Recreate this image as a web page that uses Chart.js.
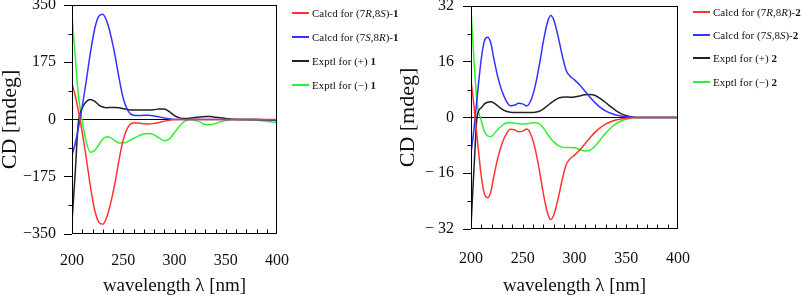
<!DOCTYPE html>
<html><head><meta charset="utf-8">
<script src="https://cdn.jsdelivr.net/npm/chart.js@4"></script>
<style>
body{margin:0;background:#fff;width:803px;height:300px;position:relative;overflow:hidden;font-family:"Liberation Serif",serif;}
canvas{position:absolute;top:0}
#c1{left:0px}
#c2{left:400px}
.legend{position:absolute;top:0;font-size:11px;color:#111;font-family:"Liberation Serif",serif}
.row{position:absolute;left:0;white-space:nowrap;height:14px;line-height:14px}
.sw{position:absolute;left:0;top:6px;width:17px;height:2px}
.txt{position:absolute;left:20px;top:0}
</style>
</head><body>
<canvas id="c1" width="400" height="300"></canvas>
<canvas id="c2" width="403" height="300"></canvas>
<div class="legend" id="lg1" style="left:292px"></div>
<div class="legend" id="lg2" style="left:693px"></div>
<script>
// ---------- Panel 1 data ----------
const wl1 = [200,203,206,210,214,218,222,226,230,234,238,242,246,250,255,260,265,270,275,280,285,290,295,300,305,310,315,320,325,330,335,340,345,350,360,370,380,390,400];
const calcdRS1 = [110,75,30,-40,-120,-205,-275,-313,-320,-298,-252,-192,-122,-62,-22,-11,-11,-13,-14,-12,-9,-5,-2,0,0,0,0,0,0,0,0,0,0,0,0,0,0,0,0];
const calcdSR1 = [-110,-75,-30,40,120,205,275,315,322,300,255,195,125,65,25,13,12,13,13,11,8,5,2,0,0,0,0,0,0,0,0,0,0,0,0,0,0,-1,-2];
const exptlPlus1 = [-312,-170,-15,35,55,61,56,45,38,36,37,37,36,33,30,29,29,29,29,30,32,32,24,12,5,3,4,6,8,9,9,7,5,3,0,0,0,-1,-3];
const exptlMinus1 = [314,200,80,-5,-70,-100,-95,-78,-60,-53,-56,-65,-72,-72,-67,-58,-50,-44,-43,-47,-56,-65,-60,-40,-20,-5,0,-2,-8,-15,-16,-12,-7,-3,0,-1,-2,-5,-10];
const yTicks1 = ['\u2212350','\u2212175','0','175','350'];

// ---------- Panel 2 data ----------
const wl2 = [200,203,206,210,213,216,219,222,226,230,234,238,242,246,250,254,258,262,266,270,274,277,280,284,288,292,296,300,305,310,315,320,325,330,335,340,345,350,360,370,380,390,400];
const calcdRR2 = [10.7,3,-6,-17,-22,-23,-21.5,-17,-11.5,-7.5,-4.8,-3.4,-3.5,-4.1,-3.9,-3.3,-5,-9,-15,-22,-27.5,-29.3,-28,-23.5,-18,-13.5,-11.8,-10.8,-9.3,-7.6,-5.8,-4.2,-2.9,-1.9,-1.2,-0.7,-0.4,-0.2,0,0,0,0,0];
const calcdSS2 = [-10.4,-3,6,17,22,23,21.5,17,11.5,7.5,4.8,3.4,3.5,4.1,3.9,3.3,5,9,15,22,27.5,29.3,28,23.5,18,13.5,11.8,10.8,9.3,7.6,5.8,4.2,2.9,1.9,1.2,0.7,0.4,0.2,0,0,0,0,0];
const exptlPlus2 = [-31.2,-14,0.5,2.8,3.9,4.4,4.5,4.2,3.3,2.4,1.8,1.5,1.4,1.4,1.4,1.4,1.4,1.5,1.8,2.5,3.4,4.1,4.8,5.5,5.8,5.9,5.8,5.9,6.2,6.5,6.6,6.3,5.4,4.3,3.1,2.0,1.1,0.5,0,0,0,0,0];
const exptlMinus2 = [30.8,16,4,-1,-4,-5.3,-5.5,-4.8,-3.4,-2.3,-1.6,-1.5,-1.6,-1.8,-1.9,-1.8,-1.6,-1.5,-1.8,-3,-4.8,-6,-7,-8,-8.5,-8.6,-8.6,-8.7,-9.2,-9.6,-9.4,-8.2,-6.4,-4.5,-3.0,-1.8,-1.0,-0.5,0,0,0,0,0];
const yTicks2 = ['\u2212 32','\u2212 16','0','16','32'];

const xTicks = ['200','250','300','350','400'];

const legend1 = ['Calcd for (7<i>R</i>,8<i>S</i>)-<b>1</b>','Calcd for (7<i>S</i>,8<i>R</i>)-<b>1</b>','Exptl for (+) <b>1</b>','Exptl for (\u2212) <b>1</b>'];
const legend2 = ['Calcd for (7<i>R</i>,8<i>R</i>)-<b>2</b>','Calcd for (7<i>S</i>,8<i>S</i>)-<b>2</b>','Exptl for (+) <b>2</b>','Exptl for (\u2212) <b>2</b>'];
const colors = ['#ff3333','#3333ff','#222222','#33ee33'];

const FONT = '"Liberation Serif", "Times New Roman", serif';

function zip(xs, ys){ return xs.map((x,i)=>({x:x, y:ys[i]})); }

const framePlugin = {
  id:'frame',
  afterDraw(chart, args, opts){
    const {ctx, chartArea:a, scales:{x,y}} = chart;
    ctx.save();
    ctx.strokeStyle='#000'; ctx.lineWidth=1;
    const L=Math.round(a.left)+0.5, R=Math.round(a.right)-0.5, T=Math.round(a.top)+0.5, B=Math.round(a.bottom)-0.5;
    ctx.strokeRect(L, T, R-L, B-T);
    ctx.beginPath();
    for (let v = x.min+10; v < x.max; v += 10){
      const px = Math.round(x.getPixelForValue(v))+0.5;
      ctx.moveTo(px, B); ctx.lineTo(px, B-4);
    }
    const st = opts.minorStep;
    for (let v = y.min+st; v < y.max; v += 2*st){
      const py = Math.round(y.getPixelForValue(v))+0.5;
      ctx.moveTo(L, py); ctx.lineTo(L-4, py);
    }
    ctx.stroke();
    ctx.restore();
  }
};

function makeChart(id, wl, series, labels, yMax, yLabels, minorStep, geom){
  return new Chart(document.getElementById(id), {
    type:'line',
    data:{
      datasets: series.map((s,i)=>({
        label: labels[i],
        data: zip(wl, s),
        borderColor: colors[i],
        borderWidth: 1.5,
        pointRadius: 0,
        fill: false,
        cubicInterpolationMode: 'monotone'
      }))
    },
    options:{
      responsive:false, animation:false, devicePixelRatio:1,
      layout:{padding:{top:geom.top, right:geom.right, left:0, bottom:0}},
      plugins:{legend:{display:false}, tooltip:{enabled:false}, frame:{minorStep:minorStep}},
      scales:{
        x:{
          type:'linear', min:200, max:400,
          afterFit: s => { s.height = geom.xh; s.paddingLeft = 0; s.paddingRight = 0; },
          grid:{display:true, drawOnChartArea:false, drawTicks:false},
          border:{display:false},
          ticks:{stepSize:50, padding:geom.xpad, color:'#111', font:{family:FONT, size:16}, maxRotation:0,
                 callback:(v,i)=> xTicks[i]},
          title:{display:true, text:'wavelength \u03bb [nm]', color:'#111', font:{family:FONT, size:19}, padding:{top:0,bottom:3}}
        },
        y:{
          type:'linear', min:-yMax, max:yMax,
          afterFit: s => { s.width = geom.yw; s.paddingTop = 0; s.paddingBottom = 0; },
          grid:{drawOnChartArea:true, drawTicks:true, tickLength:8, tickColor:'#000',
                color: c => (c.tick && c.tick.value === 0) ? '#000' : 'rgba(0,0,0,0)'},
          border:{display:false},
          ticks:{stepSize:yMax/2, padding:geom.ypad, color:'#111', font:{family:FONT, size:16},
                 callback:(v,i)=> yLabels[i]},
          title:{display:true, text:'CD [mdeg]', color:'#111', font:{family:FONT, size:22, lineHeight:1}, padding:{top:geom.ytp,bottom:0}}
        }
      }
    },
    plugins:[framePlugin]
  });
}

makeChart('c1', wl1, [calcdRS1, calcdSR1, exptlPlus1, exptlMinus1], legend1, 350, yTicks1, 87.5,
  {top:5, right:123, xh:66, yw:72, xpad:17, ypad:8, ytp:-1});
makeChart('c2', wl2, [calcdRR2, calcdSS2, exptlPlus2, exptlMinus2], legend2, 32, yTicks2, 8,
  {top:6, right:125, xh:71, yw:71, xpad:20, ypad:9, ytp:-3});

function buildLegend(id, labels, rowsY){
  const el = document.getElementById(id);
  labels.forEach((t,i)=>{
    const r = document.createElement('div');
    r.className='row';
    r.style.top = (rowsY[i]-7)+'px';
    r.innerHTML = '<span class="sw" style="background:'+colors[i]+'"></span><span class="txt">'+t+'</span>';
    el.appendChild(r);
  });
}
buildLegend('lg1', legend1, [13,37,61,85]);
buildLegend('lg2', legend2, [12,35,58,82]);
</script>
</body></html>
